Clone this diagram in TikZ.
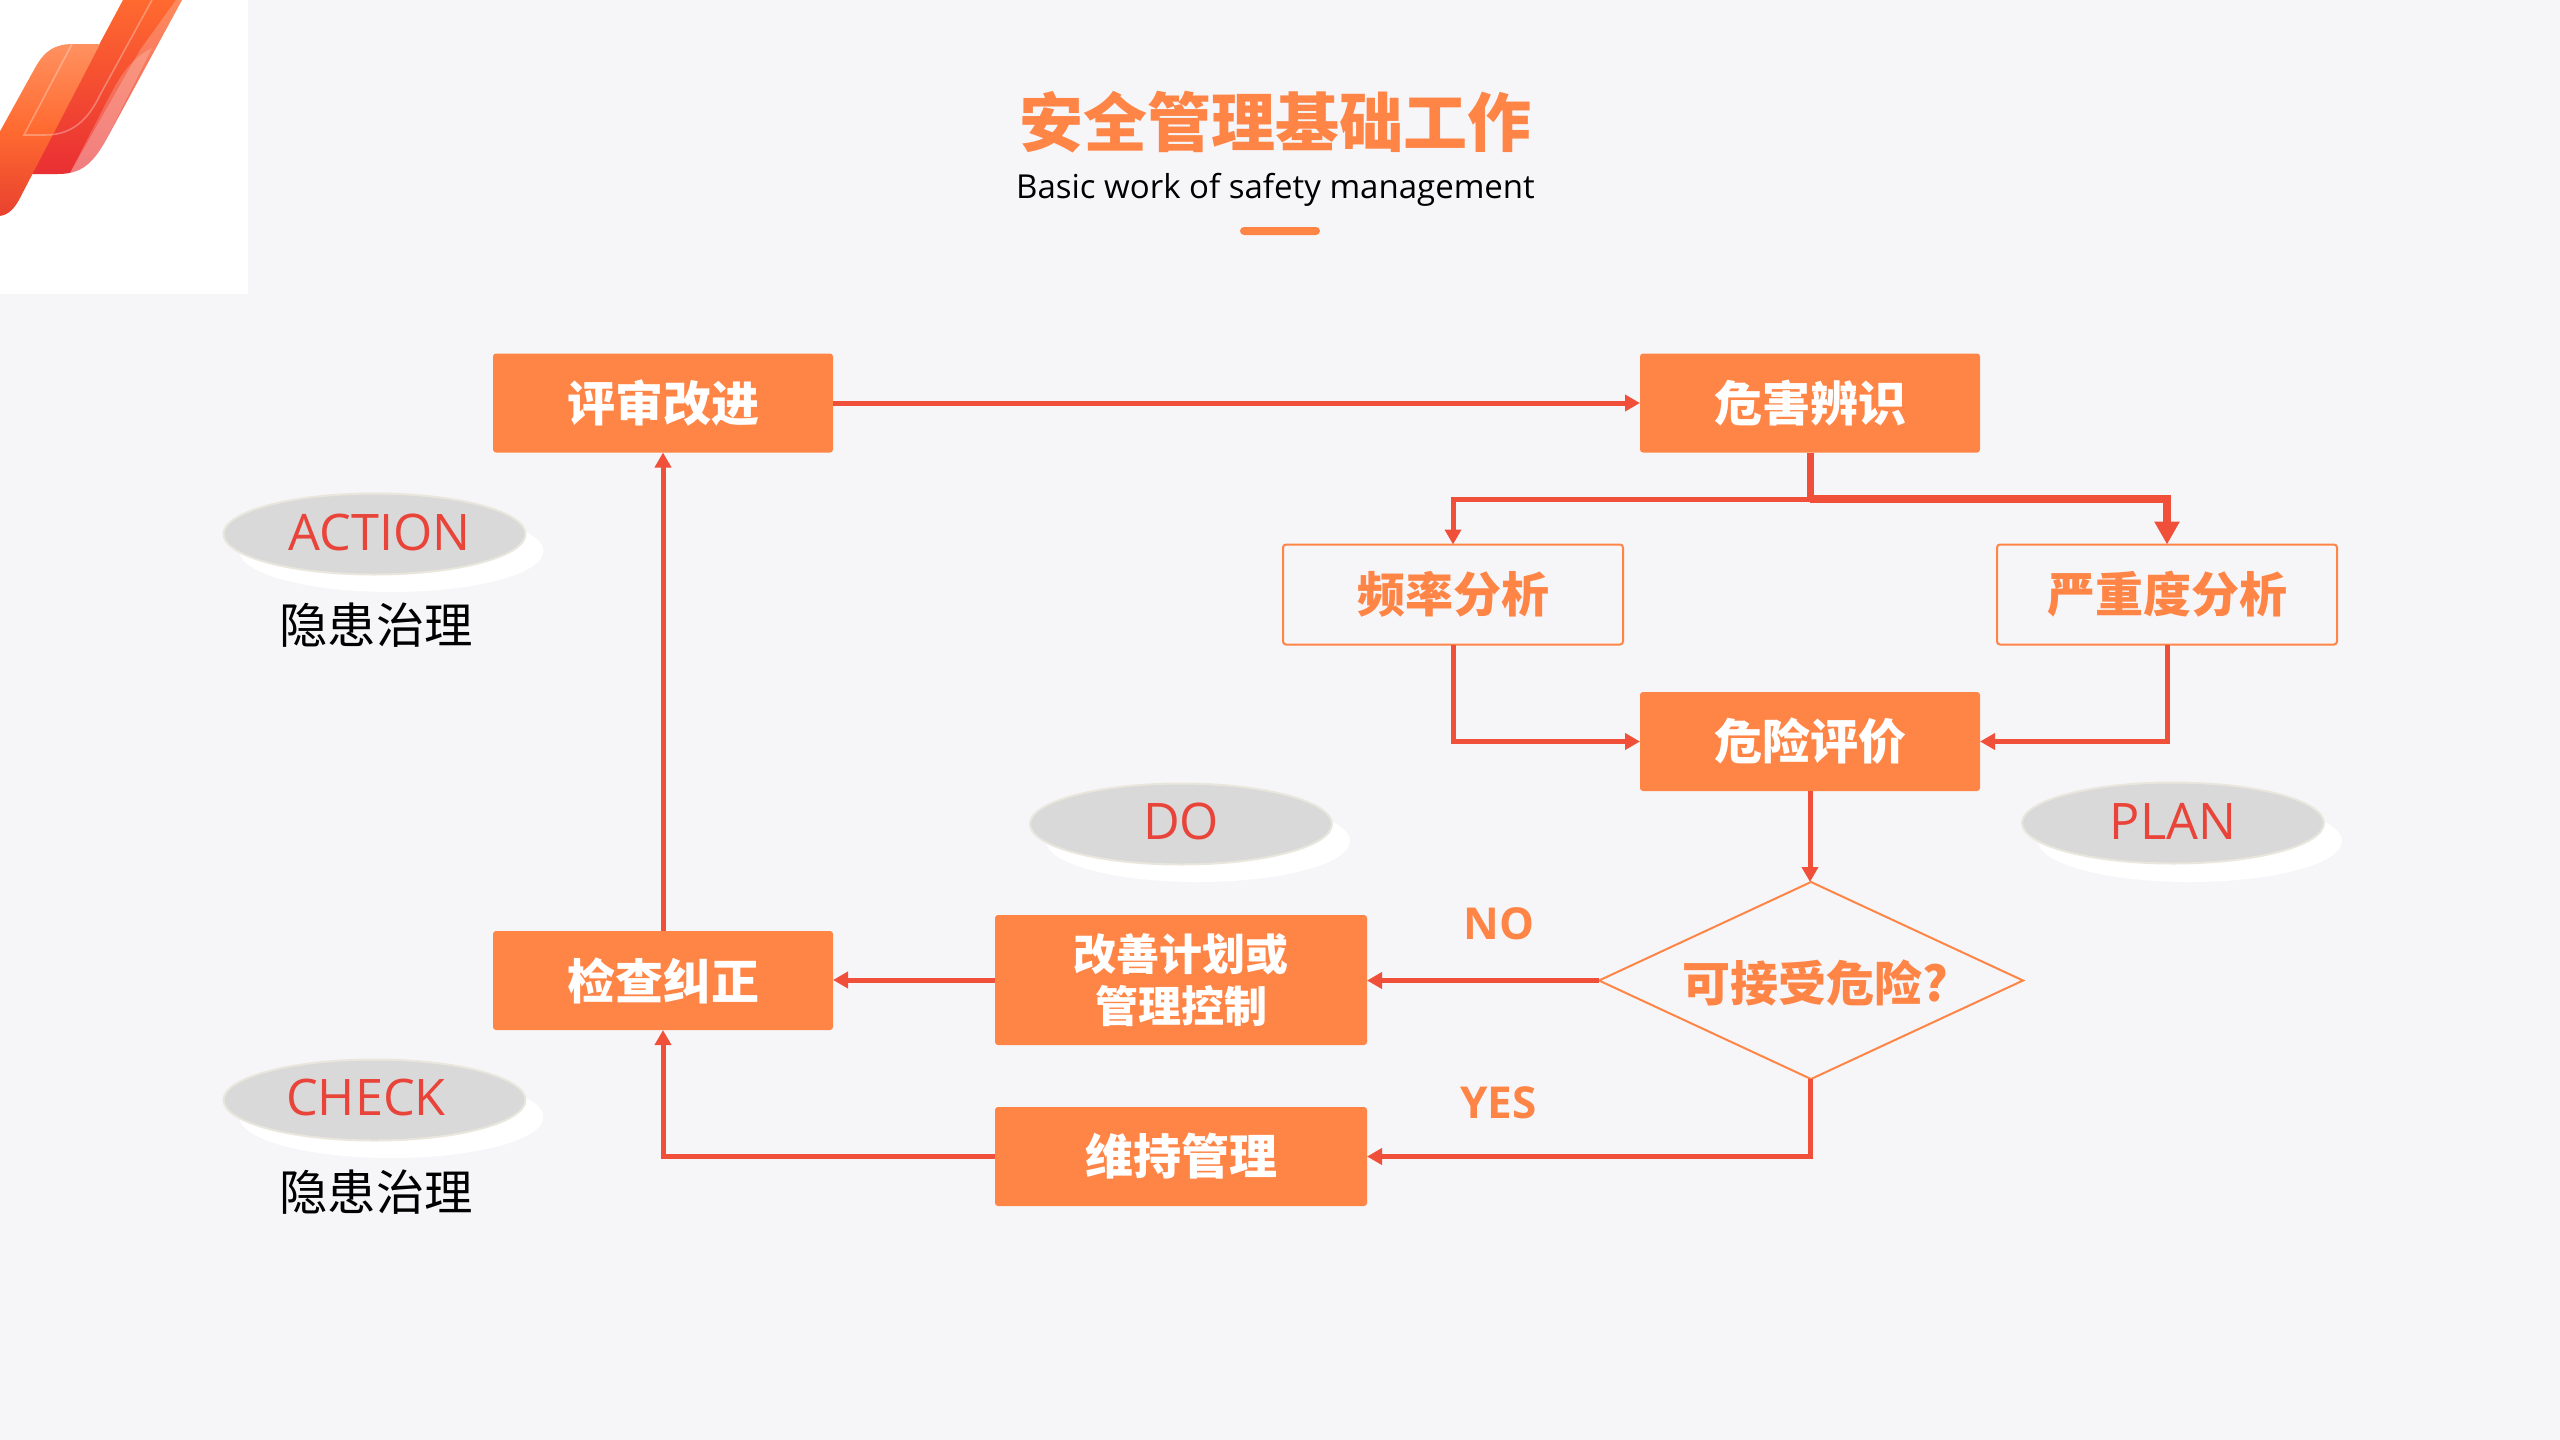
\documentclass[tikz,border=0pt]{standalone}
\usepackage{fontspec}
\usetikzlibrary{arrows.meta,shapes.geometric}
\setmainfont{Open Sans}
\newfontfamily\cjk{Noto Sans CJK SC}
\definecolor{bgc}{HTML}{F6F6F9}
\definecolor{org}{HTML}{FF8547}
\definecolor{redl}{HTML}{F0503A}
\definecolor{redt}{HTML}{E9443A}
\definecolor{gr}{HTML}{D9D9D9}
\definecolor{grb}{HTML}{E9E7DD}
\definecolor{logoa}{HTML}{FF6A30}
\definecolor{logob}{HTML}{E92F33}
\definecolor{logoc}{HTML}{FF9160}
\definecolor{logod}{HTML}{E8412F}
\tikzset{
  x=0.5pt,y=-0.5pt,
  solidbox/.style={rectangle,rounded corners=1.5pt,fill=org,text=white,inner sep=0pt,outer sep=0pt,minimum width=170pt,minimum height=49.5pt,font=\cjk\bfseries\fontsize{24}{24}\selectfont,align=center},
  openbox/.style={rectangle,rounded corners=1.5pt,draw=org,line width=1pt,text=org,inner sep=0pt,outer sep=0pt,minimum width=170pt,minimum height=50pt,font=\cjk\bfseries\fontsize{24}{24}\selectfont},
  wide/.style={minimum width=186pt},
  decide/.style={diamond,draw=org,line width=1pt,text=org,inner sep=0pt,outer sep=0pt,aspect=2.157,minimum width=212pt,minimum height=98.5pt},
  conn/.style={draw=redl,line width=2.5pt,-{Triangle[length=7.5pt,width=8pt]}},
  connbold/.style={draw=redl,line width=4pt,-{Triangle[length=11.5pt,width=12pt]}},
  plain/.style={draw=redl,line width=3.5pt},
  pdca/.style={ellipse,fill=gr,draw=grb,line width=1pt,inner sep=0pt,minimum width=151pt,minimum height=40.5pt},
  pdcashadow/.style={ellipse,fill=white,inner sep=0pt,minimum width=152pt,minimum height=41pt},
  pdcatext/.style={text=redt,inner sep=0pt,font=\fontsize{25.2}{26}\selectfont},
  subtext/.style={text=black,inner sep=0pt,font=\cjk\fontsize{24.2}{24}\selectfont},
  answer/.style={text=org,inner sep=0pt,font=\bfseries\fontsize{22}{22}\selectfont},
}
\begin{document}
\begin{tikzpicture}
\useasboundingbox (0,0) rectangle (2560,1440);
\fill[bgc] (0,0) rectangle (2560,1440);
% logo
\fill[white] (0,0) rectangle (248,294);
\begin{scope}
\clip (0,0) rectangle (248,294);
\path[top color=logoa,bottom color=logob]
  (123,0) -- (182,0) -- (106,140) .. controls (92,165) and (80,174) .. (58,174) -- (30,174) -- (123,0) -- cycle;
\path[top color=logoc,bottom color=logod,middle color=logoa]
  (100,44) -- (74,44) .. controls (55,44) and (45,50) .. (35,68) -- (-2,135) -- (-2,216) .. controls (8,216) and (15,208) .. (20,198) -- (100,44) -- cycle;
\fill[white,opacity=.22] (176,0) -- (182,0) -- (106,140) .. controls (96,158) and (86,170) .. (70,173) -- (140,50) -- cycle;
\fill[white,opacity=.2] (152,48) .. controls (128,60) and (118,80) .. (105,105) -- (70,173) .. controls (86,170) and (96,158) .. (106,140) -- cycle;
\draw[white,opacity=.3,line width=.8pt] (152,0) -- (100,95) .. controls (88,120) and (72,135) .. (45,135) -- (24,135) -- (72,44);
\end{scope}
% title
\node[text=org,inner sep=0pt,font=\cjk\bfseries\fontsize{32}{32}\selectfont] (title) at (1275.5,122) {安全管理基础工作};
\node[text=black,inner sep=0pt,font=\fontsize{16.5}{17}\selectfont] (subtitle) at (1275.5,190) {Basic work of safety management};
\fill[org,rounded corners=2pt] (1240,227) rectangle (1320,235);
% PDCA ovals
\node[pdcashadow] (sa) at (391.5,551) {};
\node[pdca] (oa) at (374.5,534) {};
\node[pdcatext] (ta) at (379.5,532) {ACTION};
\node[subtext] (ha) at (376,625) {隐患治理};
\node[pdcashadow] (sd) at (1198,841) {};
\node[pdca] (od) at (1181,824) {};
\node[pdcatext] (td) at (1181,821) {DO};
\node[pdcashadow] (sp) at (2190,841) {};
\node[pdca] (op) at (2173,823) {};
\node[pdcatext] (tp) at (2173,821) {PLAN};
\node[pdcashadow] (sc) at (391.5,1117) {};
\node[pdca] (oc) at (374.5,1100) {};
\node[pdcatext] (tc) at (366,1097) {CHECK};
\node[subtext] (hc) at (376,1192) {隐患治理};
% nodes
\node[solidbox] (pszj) at (663,403) {评审改进};
\node[solidbox] (whbs) at (1810,403) {危害辨识};
\node[openbox] (plfx) at (1453,594.5) {频率分析};
\node[openbox] (yzd) at (2167,594.5) {严重度分析};
\node[solidbox] (wxpj) at (1810,741.5) {危险评价};
\node[decide] (kjs) at (1811,980.5) {};
\node[text=org,inner sep=0pt,font=\cjk\bfseries\fontsize{24}{24}\selectfont] (kjst) at (1815,983) {可接受危险?};
\node[solidbox,wide,minimum height=65pt,font=\cjk\bfseries\fontsize{21.5}{26}\selectfont] (gsjh) at (1181,980) {改善计划或\\管理控制};
\node[solidbox] (jcjz) at (663,980.5) {检查纠正};
\node[solidbox,wide] (wcgl) at (1181,1156.5) {维持管理};
\node[answer] (no) at (1499,924) {NO};
\node[answer] (yes) at (1498.5,1103) {YES};
\coordinate (fork) at (1810,499);
% connectors
\draw[conn] (pszj.east) -- (whbs.west);
\draw[plain,line cap=butt] (whbs.south) -- (fork);
\draw[conn] (fork) -| (plfx.north);
\draw[connbold] (fork) -| (yzd.north);
\draw[conn] (plfx.south) |- (wxpj.west);
\draw[conn] (yzd.south) |- (wxpj.east);
\draw[conn] (wxpj.south) -- (kjs.north -| wxpj.south);
\draw[conn] (kjs.west) -- (kjs.west -| gsjh.east);
\draw[conn] (kjs.south -| wxpj.south) |- (wcgl.east);
\draw[conn] (gsjh.west) -- (gsjh.west -| jcjz.east);
\draw[conn] (wcgl.west) -| (jcjz.south);
\draw[conn] (jcjz.north) -- (pszj.south);
\end{tikzpicture}
\end{document}
